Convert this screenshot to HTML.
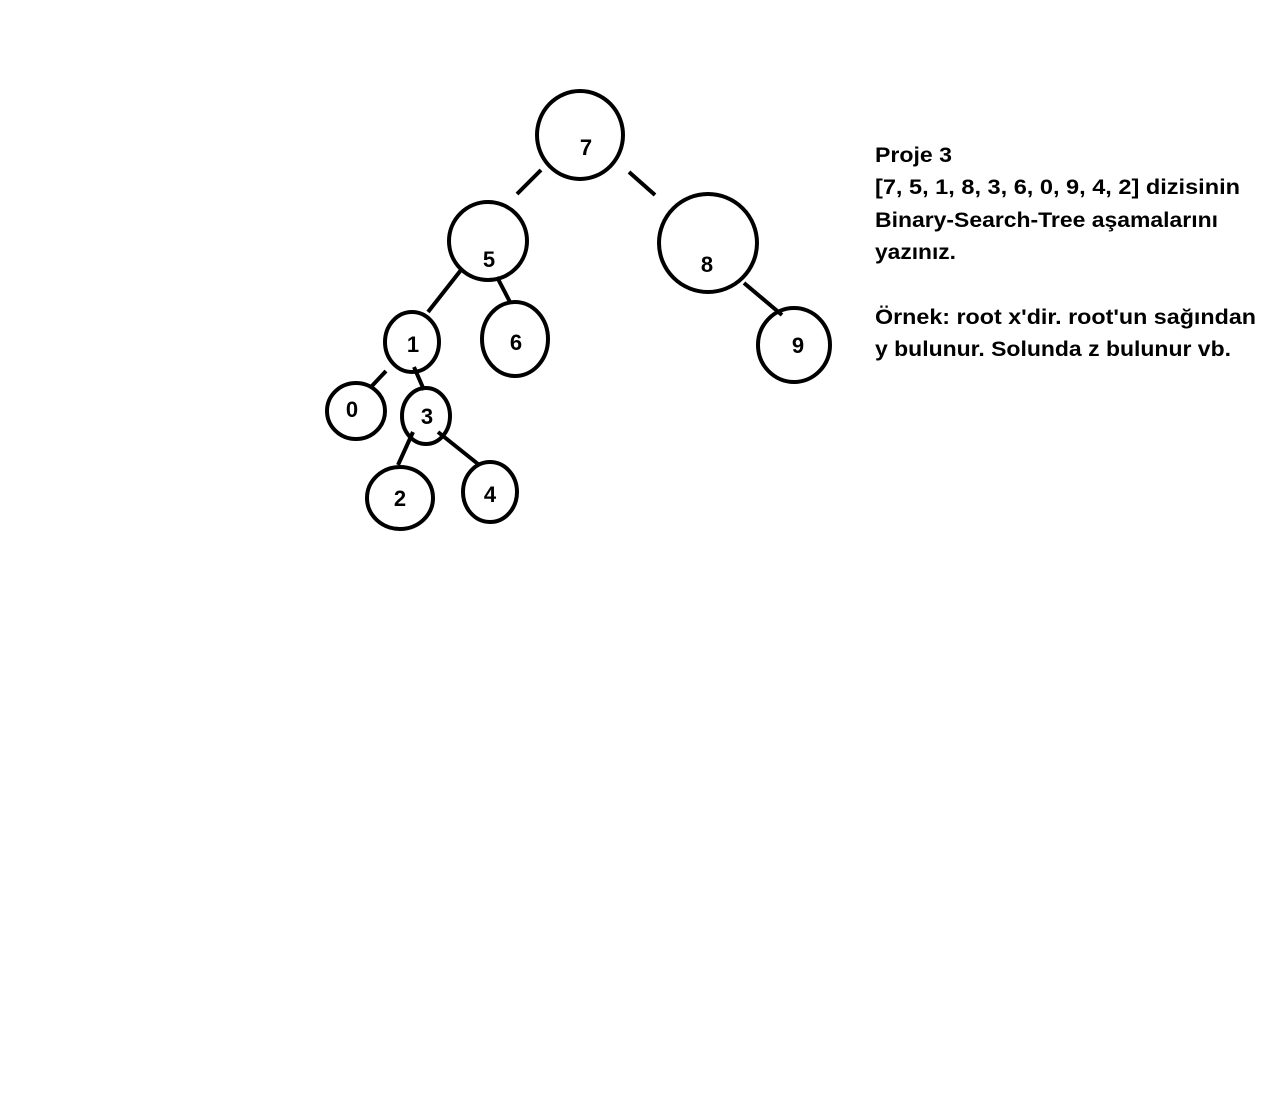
<!DOCTYPE html>
<html><head><meta charset="utf-8"><style>
html,body{margin:0;padding:0;background:#fff;width:1288px;height:1107px;overflow:hidden}
svg{display:block}
text{font-family:"Liberation Sans",sans-serif;font-weight:bold;fill:#000}
</style></head><body>
<svg id="chart" width="1288" height="1107" viewBox="0 0 1288 1107">
<g id="edges"></g><g id="nodes"></g>
<g font-size="21">
<text x="875" y="162" textLength="77" lengthAdjust="spacingAndGlyphs">Proje 3</text>
<text x="875" y="194" textLength="365" lengthAdjust="spacingAndGlyphs">[7, 5, 1, 8, 3, 6, 0, 9, 4, 2] dizisinin</text>
<text x="875" y="227" textLength="343" lengthAdjust="spacingAndGlyphs">Binary-Search-Tree aşamalarını</text>
<text x="875" y="259" textLength="81" lengthAdjust="spacingAndGlyphs">yazınız.</text>
<text x="875" y="324" textLength="381" lengthAdjust="spacingAndGlyphs">Örnek: root x'dir. root'un sağından</text>
<text x="875" y="356" textLength="356" lengthAdjust="spacingAndGlyphs">y bulunur. Solunda z bulunur vb.</text>
</g>
</svg>
<script>
const labels=["7","5","8","1","6","9","0","3","2","4"];
const nodeCx=[580,488,708,412,515,794,356,426,400,490];
const nodeCy=[135,241,243,342,339,345,411,416,498,492];
const nodeRx=[43,39,49,27,33,36,29,24,33,27];
const nodeRy=[44,39,49,30,37,37,28,28,31,30];
const labelX=[586,489,707,413,516,798,352,427,400,490];
const labelY=[155,267,272,352,350,353,417,424,506,502];
const edges=[[541,170,517,194],[629,172,655,195],[461,270,428,312],[497,277,510,302],[744,283,782,315],[386,371,370,388],[414,367,424,390],[413,432,398,465],[438,432,478,464]];
const NS="http://www.w3.org/2000/svg";
const eg=document.getElementById('edges'),ng=document.getElementById('nodes');
edges.forEach((e,i)=>{
 const l=document.createElementNS(NS,'line');
 
 
 l.setAttribute('x1',e[0]);l.setAttribute('y1',e[1]);l.setAttribute('x2',e[2]);l.setAttribute('y2',e[3]);
 l.setAttribute('stroke','#000');l.setAttribute('stroke-width','4');
 eg.appendChild(l);
});
labels.forEach((lb,i)=>{
 const c=document.createElementNS(NS,'ellipse');
 
 
 c.setAttribute('cx',nodeCx[i]);c.setAttribute('cy',nodeCy[i]);
 c.setAttribute('rx',nodeRx[i]);c.setAttribute('ry',nodeRy[i]);
 c.setAttribute('fill','none');c.setAttribute('stroke','#000');c.setAttribute('stroke-width','4');
 ng.appendChild(c);
 const t=document.createElementNS(NS,'text');
 
 
 t.setAttribute('x',labelX[i]);t.setAttribute('y',labelY[i]);
 t.setAttribute('text-anchor','middle');t.setAttribute('font-size','22');
 t.textContent=lb;
 ng.appendChild(t);
});
</script>
</body></html>
